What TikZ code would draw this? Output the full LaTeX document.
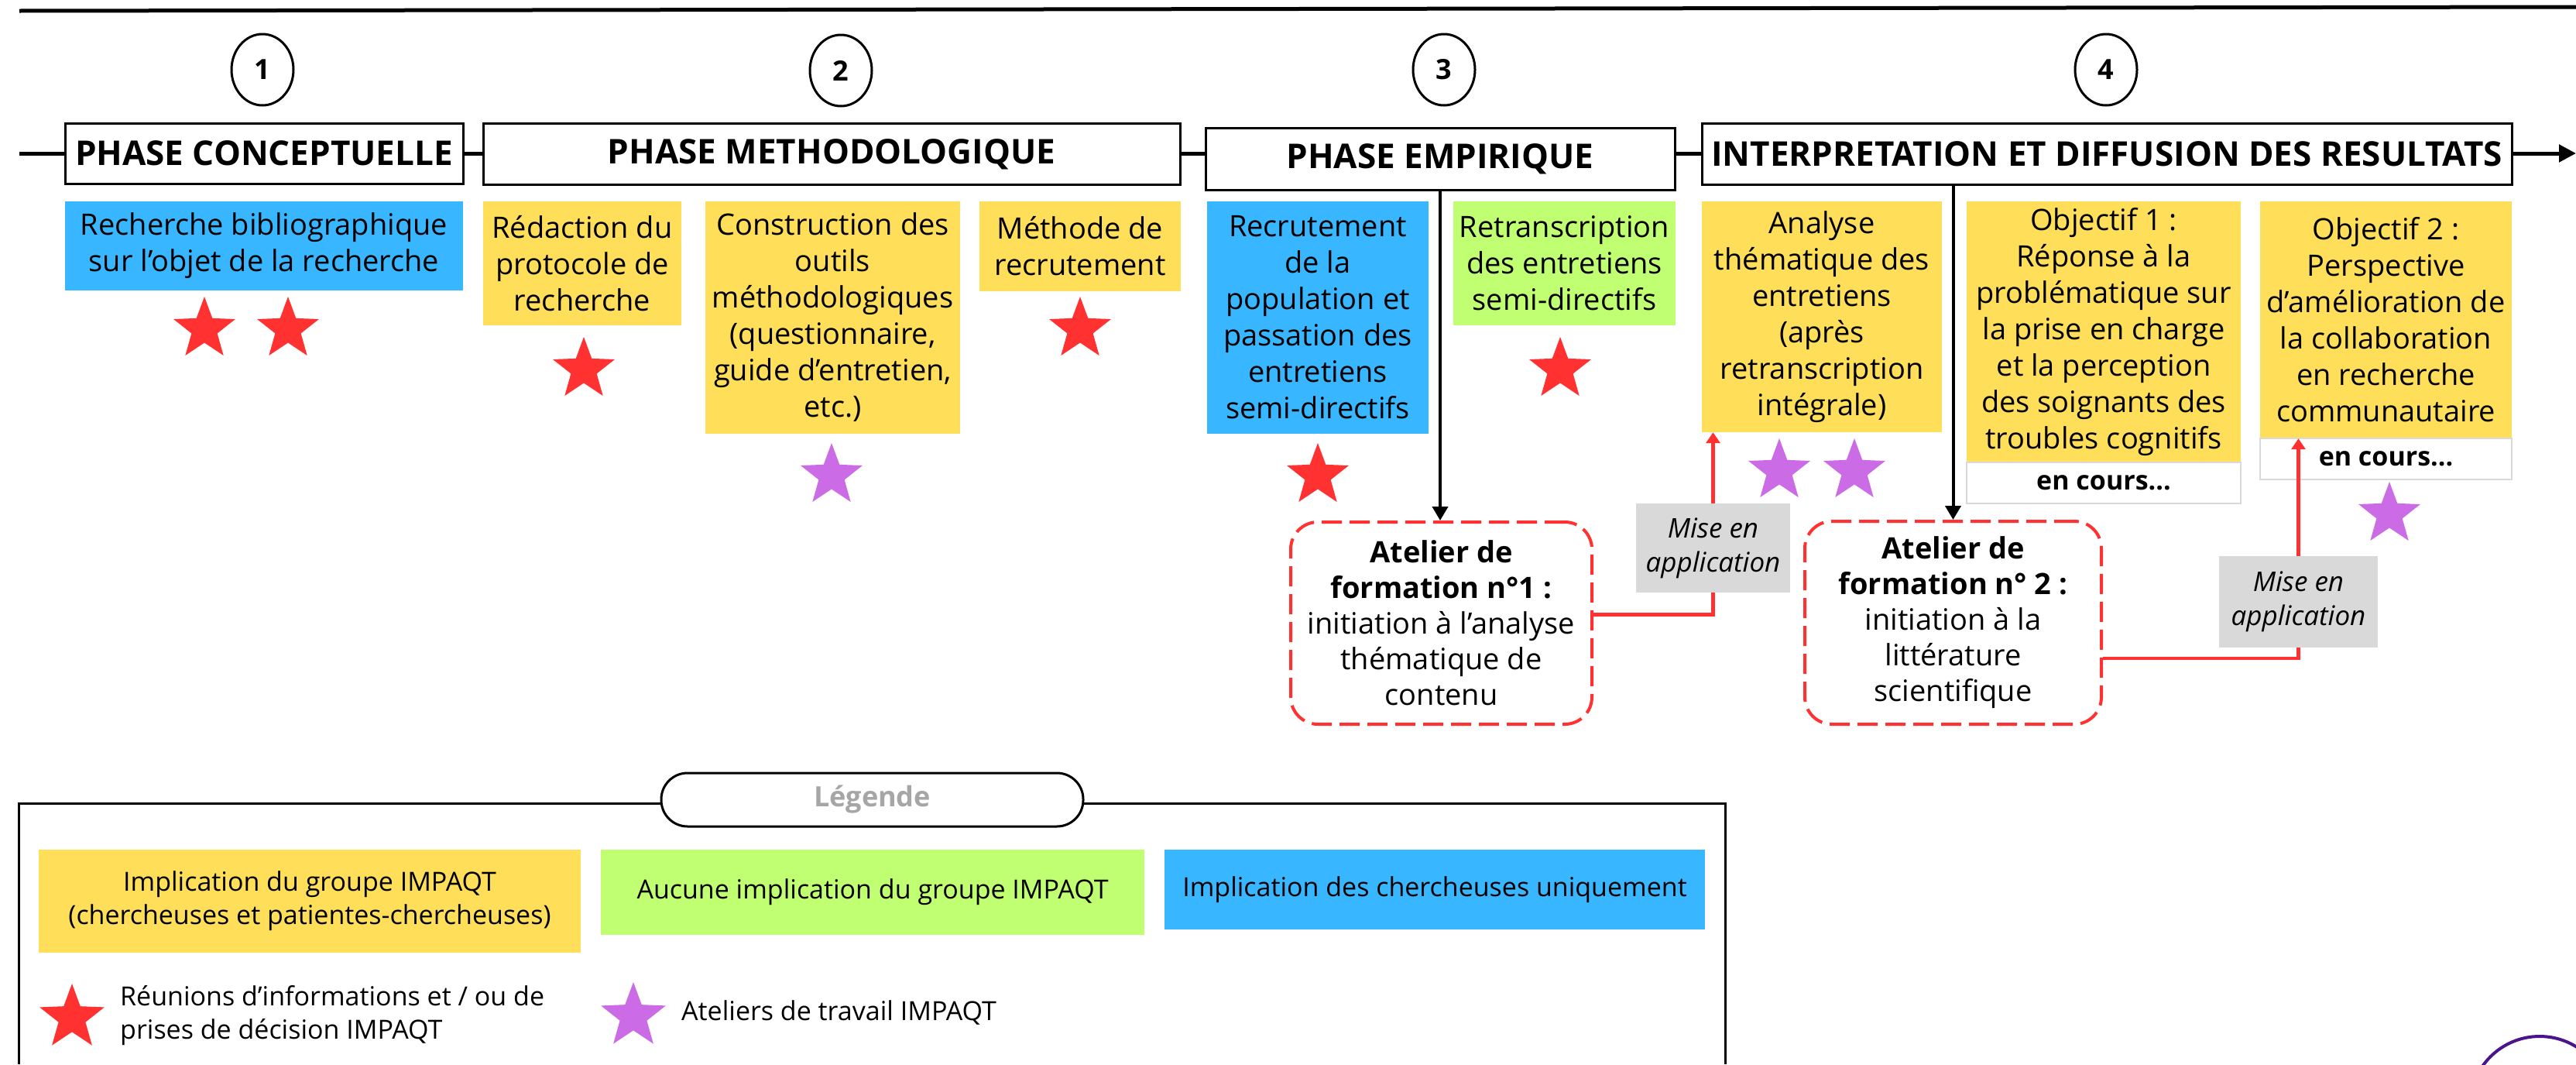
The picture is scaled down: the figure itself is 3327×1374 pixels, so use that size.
\documentclass[tikz,border=0pt]{standalone}
\usepackage{fontspec}
\setmainfont{Open Sans}
\usepackage{tikz}
\usetikzlibrary{shapes.geometric}
\usetikzlibrary{arrows.meta}

\definecolor{jaune}{HTML}{FFDE59}
\definecolor{bleu}{HTML}{38B6FF}
\definecolor{vert}{HTML}{C1FF72}
\definecolor{rouge}{HTML}{FF3131}
\definecolor{mauve}{HTML}{CB6CE6}
\definecolor{gris}{HTML}{D9D9D9}
\definecolor{grislegende}{HTML}{A6A6A6}
\definecolor{encre}{HTML}{4A148C}

\begin{document}
\begin{tikzpicture}[x=1pt, y=-1pt,
        phase/.style={draw, line width=3pt, fill=white, minimum height=78pt, inner sep=0pt, font=\bfseries\fontsize{44}{50}\selectfont},
        num/.style={ellipse, draw, line width=3pt, minimum width=80pt, minimum height=92pt, inner sep=0pt, font=\bfseries\fontsize{36}{40}\selectfont},
        etape/.style={align=center, inner sep=0pt, font=\fontsize{38}{47}\selectfont},
        etoile/.style={star, star points=5, star point ratio=2.4, inner sep=0pt, minimum size=84pt},
        atelier/.style={draw=rouge, dash pattern=on 26pt off 10pt, line width=4pt, rounded corners=35pt, align=center, inner sep=0pt, font=\fontsize{38}{46}\selectfont},
        mise/.style={fill=gris, align=center, inner sep=0pt, font=\itshape\fontsize{35}{44}\selectfont},
        encours/.style={draw=gris, line width=2pt, fill=white, inner sep=0pt, minimum height=53pt, font=\bfseries\fontsize{34}{38}\selectfont},
        leg/.style={align=center, inner sep=0pt, font=\fontsize{34}{43}\selectfont},
        link/.style={draw=rouge, line width=4.5pt},
        arr/.style={line width=4pt, -{Triangle[length=18pt,width=20pt]}}]
        \useasboundingbox (0,0) rectangle (3327,1374);

        % Timeline
        \draw[line width=5pt] (25,14) -- (3327,9);
        \coordinate (deb) at (25,198);
        \coordinate (fin) at (3327,198);
        \draw[line width=5pt, -{Triangle[length=22pt,width=22pt]}] (deb) -- (fin);

        % Phases
        \node[num] (n1) at (339, 90) {1};
        \node[num] (n2) at (1086, 91) {2};
        \node[num] (n3) at (1865, 90) {3};
        \node[num] (n4) at (2720, 90) {4};

        \node[phase, minimum width=514pt] (pc) at (341, 198) {PHASE CONCEPTUELLE};
        \node[phase, minimum width=900pt, minimum height=79pt] (pm) at (1074, 199) {PHASE METHODOLOGIQUE};
        \node[phase, minimum width=606pt, minimum height=80pt] (pe) at (1860, 205) {PHASE EMPIRIQUE};
        \node[phase, minimum width=1046pt, minimum height=79pt] (ir) at (2721, 198.5) {INTERPRETATION ET DIFFUSION DES RESULTATS};

        % Etapes
        \node[etape, fill=bleu, minimum width=514pt, minimum height=115pt] (rb) at (341, 317.5) {Recherche bibliographique\\sur l'objet de la recherche};
        \node[etape, fill=jaune, minimum width=256pt, minimum height=160pt] (rp) at (752, 340) {Rédaction du\\protocole de\\recherche};
        \node[etape, fill=jaune, minimum width=329pt, minimum height=300pt] (co) at (1075.5, 410) {Construction des\\outils\\méthodologiques\\(questionnaire,\\guide d'entretien,\\etc.)};
        \node[etape, fill=jaune, minimum width=260pt, minimum height=116pt] (mr) at (1395, 318) {Méthode de\\recrutement};
        \node[etape, fill=bleu, minimum width=286pt, minimum height=300pt] (pp) at (1702, 410) {Recrutement\\de la\\population et\\passation des\\entretiens\\semi-directifs};
        \node[etape, fill=vert, minimum width=287pt, minimum height=160pt] (rt) at (2020.5, 340) {Retranscription\\des entretiens\\semi-directifs};
        \node[etape, fill=jaune, minimum width=310pt, minimum height=298pt] (an) at (2353, 409) {Analyse\\thématique des\\entretiens\\(après\\retranscription\\intégrale)};
        \node[etape, fill=jaune, minimum width=354pt, minimum height=337pt] (o1) at (2717, 428.5) {Objectif 1 :\\Réponse à la\\problématique sur\\la prise en charge\\et la perception\\des soignants des\\troubles cognitifs};
        \node[encours, minimum width=354pt] (c1) at (2717, 623.5) {en cours...};
        \node[etape, fill=jaune, minimum width=325pt, minimum height=306pt] (o2) at (3081.5, 413) {Objectif 2 :\\Perspective\\d’amélioration de\\la collaboration\\en recherche\\communautaire};
        \node[encours, minimum width=325pt] (c2) at (3081.5, 592.5) {en cours...};

        % Etoiles
        \node[etoile, fill=rouge] (e1) at (264, 425) {};
        \node[etoile, fill=rouge] (e2) at (372, 425) {};
        \node[etoile, fill=rouge] (e3) at (754, 477) {};
        \node[etoile, fill=mauve] (e4) at (1074, 614) {};
        \node[etoile, fill=rouge] (e5) at (1395, 425) {};
        \node[etoile, fill=rouge] (e6) at (1702, 614) {};
        \node[etoile, fill=rouge] (e7) at (2015, 477) {};
        \node[etoile, fill=mauve] (e8) at (2298, 608) {};
        \node[etoile, fill=mauve] (e9) at (2395, 608) {};
        \node[etoile, fill=mauve] (e10) at (3086, 664) {};

        % Ateliers de formation
        \node[atelier, minimum width=389pt, minimum height=261pt] (a1) at (1861.5, 804.5) {\textbf{Atelier de}\\\textbf{formation n°1 :}\\initiation à l'analyse\\thématique de\\contenu};
        \node[atelier, minimum width=383pt, minimum height=262pt] (a2) at (2522.5, 804) {\textbf{Atelier de}\\\textbf{formation n° 2 :}\\initiation à la\\littérature\\scientifique};
        \node[mise, minimum width=199pt, minimum height=115pt] (m1) at (2212.5, 707.5) {Mise en\\application};
        \node[mise, minimum width=205pt, minimum height=118pt] (m2) at (2968.5, 777) {Mise en\\application};

        \draw[arr] (pe.south) -- (pe.south |- a1.north);
        \draw[arr] (a2.north |- ir.south) -- (a2.north);
        \draw[link] ([yshift=11pt]a1.east) -| (m1.south);
        \draw[link, -{Triangle[length=14pt,width=18pt]}] (m1.north) -- (m1.north |- an.south);
        \draw[link] ([yshift=-46pt]a2.east) -| (m2.south);
        \draw[link, -{Triangle[length=14pt,width=18pt]}] (m2.north) -- (m2.north |- o2.south);

        % Legende
        \draw[line width=3pt] (24,1374) |- (2228,1037) -- (2228,1374);
        \node[draw, line width=3pt, fill=white, rounded corners=34pt, minimum width=545pt, minimum height=69pt, inner sep=0pt, text=grislegende, font=\bfseries\fontsize{36}{40}\selectfont] (lg) at (1126.5, 1032.5) {Légende};
        \node[leg, fill=jaune, minimum width=700pt, minimum height=133pt] (ly) at (400, 1163.5) {Implication du groupe IMPAQT\\(chercheuses et patientes-chercheuses)};
        \node[leg, fill=vert, minimum width=702pt, minimum height=110pt] (lv) at (1127, 1152) {Aucune implication du groupe IMPAQT};
        \node[leg, fill=bleu, minimum width=698pt, minimum height=103pt] (lb) at (1853, 1148.5) {Implication des chercheuses uniquement};
        \node[etoile, fill=rouge, minimum size=88pt] (lr) at (93, 1314) {};
        \node[leg, align=left, anchor=west] (tr) at (155, 1311) {Réunions d’informations et / ou de\\prises de décision IMPAQT};
        \node[etoile, fill=mauve, minimum size=88pt] (lm) at (818, 1312) {};
        \node[leg, anchor=west] (tm) at (880, 1307) {Ateliers de travail IMPAQT};

        \draw[encre, line width=4pt] (3280,1428) circle (90pt);
    \end{tikzpicture}
\end{document}
